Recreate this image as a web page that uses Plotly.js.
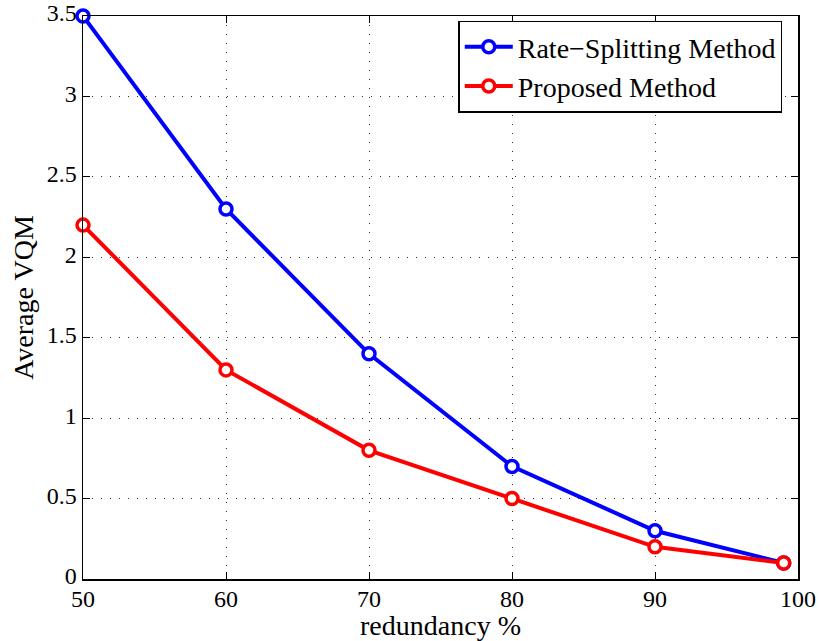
<!DOCTYPE html>
<html><head><meta charset="utf-8">
<script src="https://cdn.plot.ly/plotly-3.0.1.min.js"></script>
<style>body{margin:0;background:#fff}#plot{width:819px;height:641px}</style>
</head><body><div id="plot"></div>
<script>
const redundancy = [50, 60, 70, 80, 90, 99];
const rateSplitting = [3.5, 2.3, 1.4, 0.7, 0.3, 0.1];
const proposed = [2.2, 1.3, 0.8, 0.5, 0.2, 0.1];
const xTicks = [50, 60, 70, 80, 90, 100];
const yTicks = [0, 0.5, 1, 1.5, 2, 2.5, 3, 3.5];
const yTickText = ['0', '0.5', '1', '1.5', '2', '2.5', '3', '3.5'];

function tr(name, y, color) {
  return {x: redundancy, y: y, name: name, type: 'scatter', mode: 'lines+markers',
    line: {color: color, width: 4},
    marker: {symbol: 'circle', size: 12, color: 'white', line: {color: color, width: 3.5}},
    cliponaxis: false};
}
const data = [tr('Rate\u2212Splitting Method', rateSplitting, '#0000ff'), tr('Proposed Method', proposed, '#ff0000')];
const FONT = '"Liberation Serif", "Times New Roman", serif';
const axisCommon = {showline: true, linecolor: 'black', linewidth: 1.5, mirror: 'ticks', ticks: 'inside', ticklen: 7,
  tickcolor: 'black', showgrid: true, gridcolor: '#333', griddash: '1px,8px', gridwidth: 1, zeroline: false,
  tickfont: {family: FONT, size: 24, color: 'black'}};
const layout = {
  width: 819, height: 641, paper_bgcolor: 'white', plot_bgcolor: 'white',
  margin: {l: 83, r: 21, t: 16, b: 62},
  font: {family: FONT, color: 'black'},
  xaxis: Object.assign({}, axisCommon, {range: [50, 100], tickvals: xTicks, ticktext: xTicks.map(String),
    ticklabelstandoff: -2,
    title: {text: 'redundancy %', font: {size: 28}, standoff: 0}}),
  yaxis: Object.assign({}, axisCommon, {range: [0, 3.5], tickvals: yTicks, ticktext: yTickText,
    ticklabelshift: -3,
    title: {text: 'Average VQM', font: {size: 28}, standoff: 5}}),
  legend: {x: 0.978, y: 0.992, xanchor: 'right', yanchor: 'top', bgcolor: 'white', bordercolor: 'black', borderwidth: 1.5,
    font: {size: 28}, tracegroupgap: 0, itemwidth: 48},
  showlegend: true
};
Plotly.newPlot('plot', data, layout, {displayModeBar: false, staticPlot: true});
</script></body></html>
